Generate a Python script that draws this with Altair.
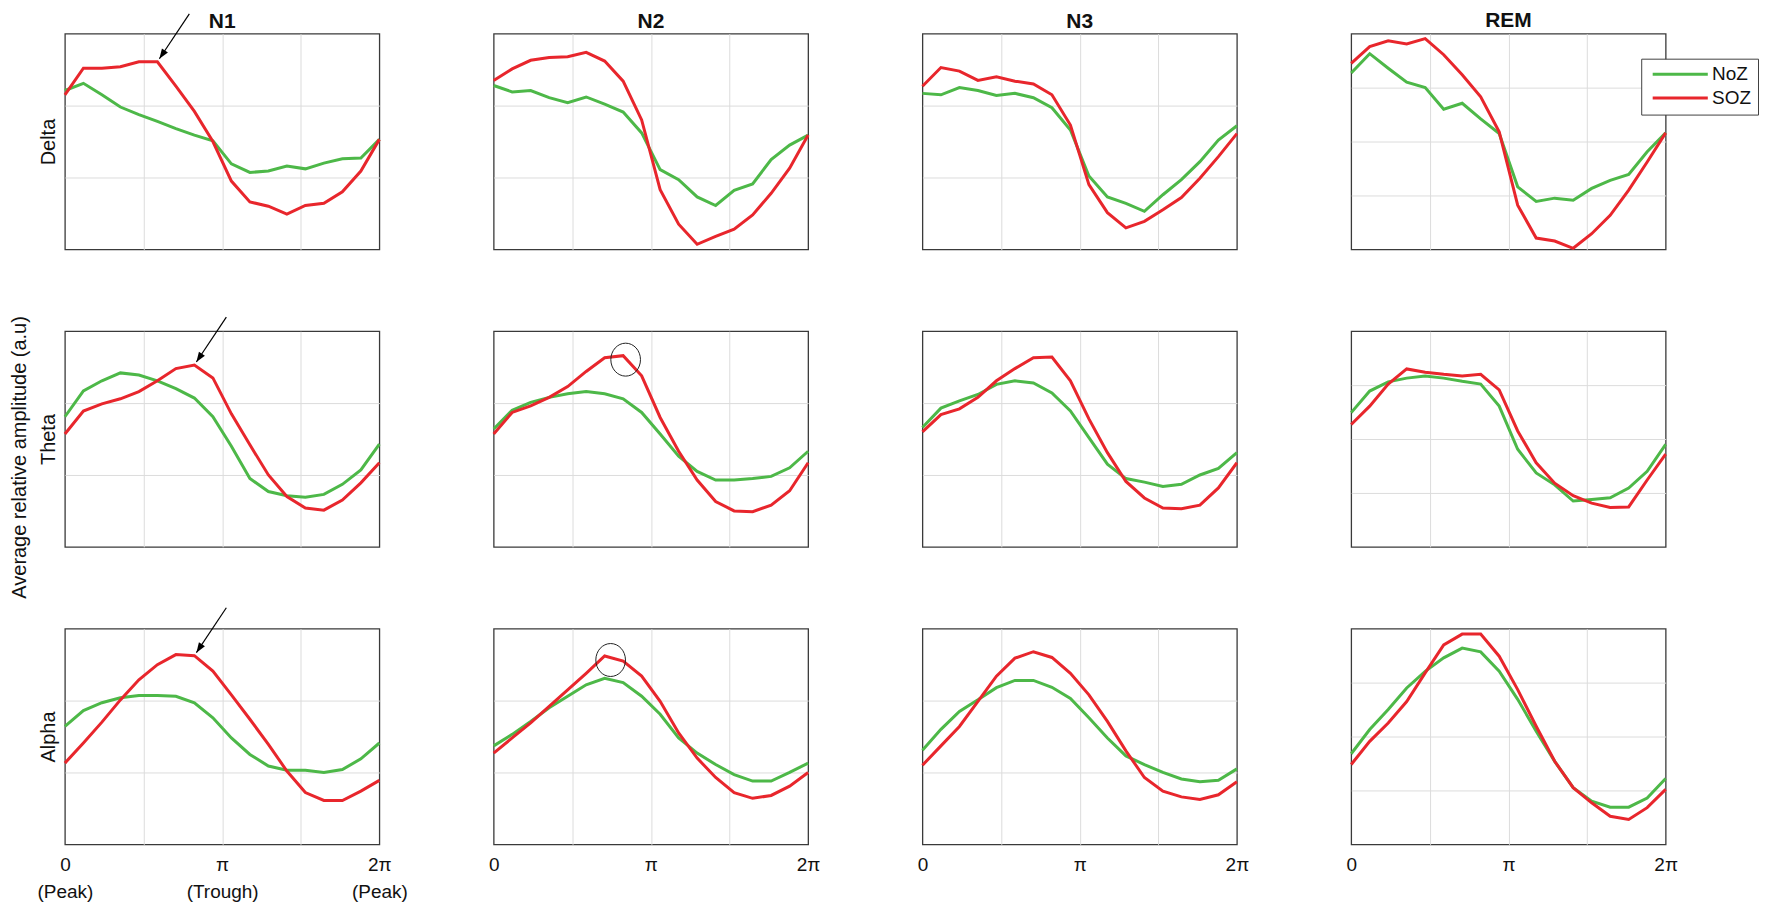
import math
import altair as alt
import pandas as pd

# ---------------- data ----------------
STAGES = ["N1", "N2", "N3", "REM"]
BANDS = ["Delta", "Theta", "Alpha"]
GROUPS = ["NoZ", "SOZ"]
COLORS = ["#4DB848", "#E8262C"]

N_BINS = 18  # phase bins from 0 to 2*pi
PHASE = [i * 2 * math.pi / (N_BINS - 1) for i in range(N_BINS)]

# grid steps on the (unlabelled) y axis of each stage column
GRID_STEPS = {"N1": 3, "N2": 3, "N3": 3, "REM": 4}

DELTA_N1_NOZ = [2.21, 2.31, 2.15, 1.98, 1.875, 1.78, 1.68, 1.59, 1.51, 1.19, 1.07, 1.09, 1.16, 1.12, 1.20, 1.26, 1.27, 1.53]
DELTA_N1_SOZ = [2.15, 2.52, 2.52, 2.54, 2.61, 2.61, 2.27, 1.92, 1.50, 0.95, 0.66, 0.60, 0.49, 0.61, 0.64, 0.80, 1.09, 1.53]
DELTA_N2_NOZ = [2.28, 2.19, 2.21, 2.11, 2.04, 2.12, 2.02, 1.91, 1.62, 1.11, 0.97, 0.73, 0.61, 0.82, 0.91, 1.25, 1.45, 1.59]
DELTA_N2_SOZ = [2.35, 2.51, 2.63, 2.67, 2.68, 2.74, 2.62, 2.34, 1.80, 0.83, 0.35, 0.07, 0.18, 0.28, 0.48, 0.78, 1.13, 1.59]
DELTA_N3_NOZ = [2.17, 2.15, 2.25, 2.21, 2.14, 2.17, 2.11, 1.97, 1.66, 1.02, 0.73, 0.64, 0.53, 0.76, 0.97, 1.22, 1.52, 1.72]
DELTA_N3_SOZ = [2.27, 2.53, 2.48, 2.35, 2.40, 2.34, 2.30, 2.15, 1.73, 0.90, 0.51, 0.30, 0.39, 0.55, 0.72, 0.99, 1.29, 1.61]
DELTA_REM_NOZ = [3.27, 3.63, 3.36, 3.10, 3.00, 2.60, 2.71, 2.42, 2.15, 1.16, 0.89, 0.95, 0.91, 1.13, 1.28, 1.39, 1.81, 2.16]
DELTA_REM_SOZ = [3.45, 3.76, 3.87, 3.81, 3.91, 3.61, 3.24, 2.83, 2.18, 0.82, 0.21, 0.155, 0.02, 0.29, 0.63, 1.10, 1.62, 2.16]

THETA_N1_NOZ = [1.81, 2.17, 2.31, 2.42, 2.39, 2.31, 2.20, 2.07, 1.81, 1.40, 0.95, 0.77, 0.71, 0.69, 0.73, 0.87, 1.07, 1.43]
THETA_N1_SOZ = [1.57, 1.89, 1.99, 2.06, 2.16, 2.31, 2.48, 2.53, 2.35, 1.85, 1.42, 1.00, 0.70, 0.54, 0.51, 0.65, 0.89, 1.17]
THETA_N2_NOZ = [1.64, 1.90, 2.01, 2.08, 2.13, 2.16, 2.13, 2.06, 1.87, 1.57, 1.26, 1.05, 0.93, 0.93, 0.95, 0.98, 1.10, 1.33]
THETA_N2_SOZ = [1.57, 1.87, 1.96, 2.08, 2.23, 2.44, 2.63, 2.66, 2.38, 1.80, 1.33, 0.93, 0.63, 0.50, 0.49, 0.58, 0.78, 1.17]
THETA_N3_NOZ = [1.66, 1.93, 2.03, 2.12, 2.26, 2.31, 2.28, 2.14, 1.89, 1.52, 1.15, 0.95, 0.90, 0.84, 0.87, 1.00, 1.09, 1.31]
THETA_N3_SOZ = [1.60, 1.84, 1.92, 2.08, 2.31, 2.48, 2.63, 2.64, 2.31, 1.78, 1.31, 0.91, 0.68, 0.54, 0.53, 0.58, 0.82, 1.17]
THETA_REM_NOZ = [2.49, 2.89, 3.06, 3.13, 3.17, 3.13, 3.07, 3.02, 2.61, 1.81, 1.37, 1.15, 0.85, 0.88, 0.91, 1.09, 1.40, 1.90]
THETA_REM_SOZ = [2.27, 2.61, 3.02, 3.30, 3.24, 3.20, 3.17, 3.20, 2.91, 2.15, 1.56, 1.18, 0.95, 0.81, 0.73, 0.74, 1.24, 1.72]

ALPHA_N1_NOZ = [1.64, 1.86, 1.97, 2.04, 2.07, 2.07, 2.06, 1.97, 1.76, 1.48, 1.25, 1.09, 1.03, 1.03, 1.00, 1.04, 1.19, 1.41]
ALPHA_N1_SOZ = [1.13, 1.41, 1.70, 2.01, 2.29, 2.50, 2.64, 2.625, 2.41, 2.08, 1.74, 1.39, 1.02, 0.72, 0.61, 0.61, 0.74, 0.89]
ALPHA_N2_NOZ = [1.37, 1.53, 1.71, 1.90, 2.06, 2.22, 2.31, 2.25, 2.06, 1.81, 1.48, 1.27, 1.11, 0.97, 0.88, 0.88, 1.00, 1.13]
ALPHA_N2_SOZ = [1.27, 1.48, 1.69, 1.92, 2.15, 2.38, 2.62, 2.55, 2.34, 1.99, 1.55, 1.20, 0.93, 0.72, 0.64, 0.68, 0.81, 1.00]
ALPHA_N3_NOZ = [1.31, 1.60, 1.85, 2.01, 2.18, 2.28, 2.28, 2.185, 2.03, 1.76, 1.48, 1.23, 1.11, 1.00, 0.91, 0.87, 0.89, 1.05]
ALPHA_N3_SOZ = [1.10, 1.37, 1.64, 1.99, 2.34, 2.59, 2.68, 2.60, 2.38, 2.08, 1.71, 1.30, 0.93, 0.74, 0.66, 0.625, 0.69, 0.87]
ALPHA_REM_NOZ = [1.68, 2.13, 2.50, 2.90, 3.21, 3.46, 3.64, 3.57, 3.21, 2.69, 2.10, 1.54, 1.05, 0.80, 0.69, 0.69, 0.86, 1.22]
ALPHA_REM_SOZ = [1.48, 1.91, 2.25, 2.65, 3.18, 3.70, 3.90, 3.90, 3.49, 2.87, 2.19, 1.54, 1.05, 0.77, 0.52, 0.46, 0.68, 1.02]

SERIES = {
    ("Delta", "N1"): (DELTA_N1_NOZ, DELTA_N1_SOZ),
    ("Delta", "N2"): (DELTA_N2_NOZ, DELTA_N2_SOZ),
    ("Delta", "N3"): (DELTA_N3_NOZ, DELTA_N3_SOZ),
    ("Delta", "REM"): (DELTA_REM_NOZ, DELTA_REM_SOZ),
    ("Theta", "N1"): (THETA_N1_NOZ, THETA_N1_SOZ),
    ("Theta", "N2"): (THETA_N2_NOZ, THETA_N2_SOZ),
    ("Theta", "N3"): (THETA_N3_NOZ, THETA_N3_SOZ),
    ("Theta", "REM"): (THETA_REM_NOZ, THETA_REM_SOZ),
    ("Alpha", "N1"): (ALPHA_N1_NOZ, ALPHA_N1_SOZ),
    ("Alpha", "N2"): (ALPHA_N2_NOZ, ALPHA_N2_SOZ),
    ("Alpha", "N3"): (ALPHA_N3_NOZ, ALPHA_N3_SOZ),
    ("Alpha", "REM"): (ALPHA_REM_NOZ, ALPHA_REM_SOZ),
}

# annotations: (band, stage, phase-bin index of the marked SOZ point)
ARROWS = [("Delta", "N1", 5), ("Theta", "N1", 7), ("Alpha", "N1", 7)]
CIRCLES = [("Theta", "N2", 7, 2.5), ("Alpha", "N2", 6, 6.0)]

X_GRID = [0, math.pi / 2, math.pi, 3 * math.pi / 2, 2 * math.pi]

# ---------------- styling ----------------
FONT = "Liberation Sans"
PANEL_W, PANEL_H = 315, 216
ARROW_HEAD = "M0,0 L-0.36,1 L0.36,1 Z"
ELLIPSE = "M-0.9,0 A0.9,1,0,1,1,0.9,0 A0.9,1,0,1,1,-0.9,0 Z"
TITLE_OFFSET = 2
GRID_COLOR = "#dcdcdc"

LABEL_PLAIN = ("datum.value < 0.01 ? '0' : abs(datum.value - PI) < 0.01 ? 'π' : "
               "abs(datum.value - 2*PI) < 0.01 ? '2π' : ''")
LABEL_PEAK = ("datum.value < 0.01 ? ['0', '(Peak)'] : abs(datum.value - PI) < 0.01 ? ['π', '(Trough)'] : "
              "abs(datum.value - 2*PI) < 0.01 ? ['2π', '(Peak)'] : ''")

LEGEND = alt.Legend(
    title=None, orient="none", legendX=1579, legendY=25,
    symbolType="M-0.5,0 L6.4,0", symbolSize=256, symbolStrokeWidth=3,
    labelFont=FONT, labelFontSize=19, labelColor="#111", labelOffset=46,
    padding=6, rowPadding=4, strokeColor="#404040", fillColor="white",
)


def panel(band, stage):
    noz, soz = SERIES[(band, stage)]
    steps = GRID_STEPS[stage]
    df = pd.DataFrame({
        "phase": PHASE * 2,
        "amp": list(noz) + list(soz),
        "group": [GROUPS[0]] * N_BINS + [GROUPS[1]] * N_BINS,
    })
    bottom = band == BANDS[-1]
    x_axis = alt.Axis(
        values=X_GRID, title=None, labels=bottom,
        labelExpr=(LABEL_PEAK if stage == "N1" else LABEL_PLAIN),
        labelFont=FONT, labelFontSize=19, labelColor="#111", labelPadding=11,
        labelLineHeight=27, labelFlush=False, labelOverlap=False, labelBound=False,
        ticks=False, domain=False, grid=True, gridColor=GRID_COLOR, gridWidth=1,
        gridOpacity={"condition": {"test": "datum.value < 0.01 || datum.value > 6.27", "value": 0},
                     "value": 1},
    )
    y_axis = alt.Axis(
        values=list(range(steps + 1)), labels=False, ticks=False, domain=False,
        grid=True, gridColor=GRID_COLOR, gridWidth=1,
        gridOpacity={"condition": {"test": f"datum.value < 0.01 || datum.value > {steps - 0.01}",
                                   "value": 0}, "value": 1},
        title=(band if stage == "N1" else None),
        titleFont=FONT, titleFontSize=20, titleFontWeight="normal", titleColor="#111",
        titlePadding=6,
    )
    xs = alt.Scale(domain=[0, 2 * math.pi], nice=False, zero=False)
    ys = alt.Scale(domain=[0, steps], nice=False, zero=False)

    lines = alt.Chart(df).mark_line(strokeWidth=3).encode(
        x=alt.X("phase:Q", scale=xs, axis=x_axis),
        y=alt.Y("amp:Q", scale=ys, axis=y_axis),
        color=alt.Color("group:N", scale=alt.Scale(domain=GROUPS, range=COLORS), legend=LEGEND),
    )
    layers = [lines]
    rise = 0.0  # how far an annotation reaches above the panel (title must ignore it)

    for (b, s, idx) in ARROWS:
        if (b, s) == (band, stage):
            adf = pd.DataFrame({"phase": [PHASE[idx]], "amp": [soz[idx]]})
            layers.append(alt.Chart(adf).mark_rule(
                color="black", strokeWidth=1.2, xOffset=2, yOffset=-3, x2Offset=32, y2Offset=-48
            ).encode(x="phase:Q", x2="phase", y="amp:Q", y2="amp"))
            layers.append(alt.Chart(adf).mark_point(
                shape=ARROW_HEAD, angle=213.69, size=400, filled=True, color="black",
                opacity=1, strokeWidth=0, xOffset=2, yOffset=-3
            ).encode(x="phase:Q", y="amp:Q"))
            top_px = PANEL_H * (1 - soz[idx] / steps) - 48 - 0.6
            rise = max(rise, -top_px)
    for (b, s, idx, dx) in CIRCLES:
        if (b, s) == (band, stage):
            cdf = pd.DataFrame({"phase": [PHASE[idx]], "amp": [soz[idx]]})
            layers.append(alt.Chart(cdf).mark_point(
                shape=ELLIPSE, size=1089, filled=False, color="#222", opacity=1,
                strokeWidth=1, xOffset=dx, yOffset=4
            ).encode(x="phase:Q", y="amp:Q"))

    ch = alt.layer(*layers).properties(width=PANEL_W, height=PANEL_H)
    if band == BANDS[0]:
        ch = ch.properties(title=alt.TitleParams(
            stage, font=FONT, fontSize=21, fontWeight="bold", color="#111",
            offset=TITLE_OFFSET - rise))
    return ch


panels = [panel(b, s) for b in BANDS for s in STAGES]

chart = alt.concat(
    *panels, columns=4, spacing={"row": 82, "column": 114.5}, bounds="flush"
).properties(
    title=alt.TitleParams(
        "Average relative amplitude (a.u)", orient="left", anchor="middle",
        font=FONT, fontSize=20, fontWeight="normal", color="#111", offset=6, dx=-2),
    padding={"left": 2, "top": 0, "right": 5, "bottom": 0},
    background="white",
).configure_view(
    stroke="#3a3a3a", strokeWidth=1.3
)

chart.save("out.html", embed_options={"renderer": "svg", "actions": False})
